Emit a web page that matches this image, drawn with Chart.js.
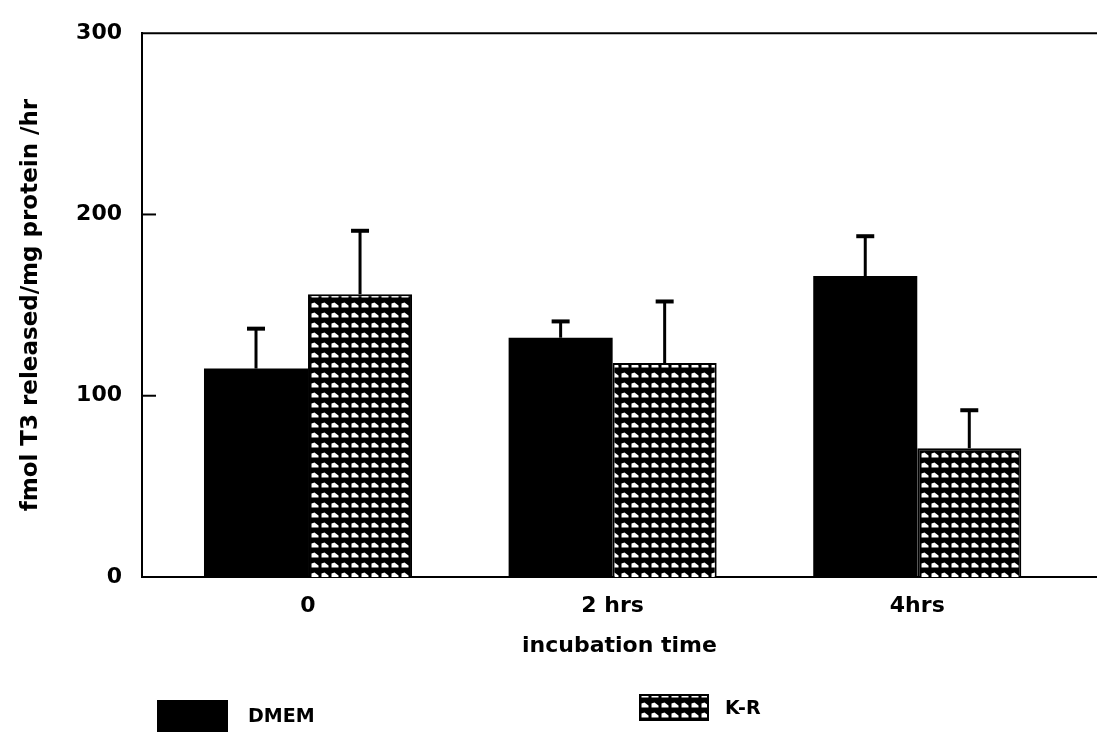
<!DOCTYPE html>
<html>
<head>
<meta charset="utf-8">
<script src="https://cdn.jsdelivr.net/npm/chart.js@4/dist/chart.umd.min.js"></script>
<style>
  html, body { margin: 0; padding: 0; background: #fff; }
  #wrap { width: 1097px; height: 734px; }
</style>
</head>
<body>
<div id="wrap"><canvas id="chart" width="1097" height="734"></canvas></div>
<script>
// incubation time categories
const timeLabels = ['0', '2 hrs', '4hrs'];

// fmol T3 released/mg protein /hr
const dmemValues = [115, 132, 166];
const dmemErrors = [22, 9, 22];
const krValues = [156, 118, 71];
const krErrors = [35, 34, 21];

const yTicks = [0, 100, 200, 300];

const FONT = 'DejaVu Sans';

const ctx = document.getElementById('chart').getContext('2d');

// black with small white wedges, like the K-R fill
function makeCheck() {
  const c = document.createElement('canvas');
  c.width = 10;
  c.height = 10;
  const g = c.getContext('2d');
  g.fillStyle = '#000';
  g.fillRect(0, 0, 10, 10);
  g.fillStyle = '#fff';
  g.beginPath();
  g.moveTo(1.5, 7.5);
  g.lineTo(1.5, 3.5);
  g.lineTo(4.5, 2.5);
  g.lineTo(8.5, 5.5);
  g.lineTo(8.5, 7.5);
  g.closePath();
  g.fill();
  return ctx.createPattern(c, 'repeat');
}
const checkFill = makeCheck();

// error bars, top side only
const errorBars = {
  id: 'errorBars',
  afterDatasetsDraw(chart) {
    const c = chart.ctx;
    const y = chart.scales.y;
    chart.data.datasets.forEach((ds, i) => {
      const meta = chart.getDatasetMeta(i);
      meta.data.forEach((bar, j) => {
        const top = y.getPixelForValue(ds.data[j].y + ds.errors[j]);
        c.save();
        c.strokeStyle = '#000';
        c.lineWidth = 3;
        c.beginPath();
        c.moveTo(bar.x, bar.y);
        c.lineTo(bar.x, top);
        c.stroke();
        c.lineWidth = 4;
        c.beginPath();
        c.moveTo(bar.x - 9, top);
        c.lineTo(bar.x + 9, top);
        c.stroke();
        c.restore();
      });
    });
  }
};

// top frame line and small inward ticks
const frame = {
  id: 'frame',
  afterDraw(chart) {
    const c = chart.ctx;
    const a = chart.chartArea;
    const y = chart.scales.y;
    c.save();
    c.strokeStyle = '#000';
    c.lineWidth = 2;
    c.beginPath();
    c.moveTo(a.left, a.top);
    c.lineTo(a.right, a.top);
    c.stroke();
    yTicks.slice(1, -1).forEach(v => {
      const py = y.getPixelForValue(v);
      c.beginPath();
      c.moveTo(a.left, py);
      c.lineTo(a.left + 14, py);
      c.stroke();
    });
    c.restore();
  }
};

// legend along the bottom, as in the figure
const bottomLegend = {
  id: 'bottomLegend',
  afterDraw(chart) {
    const c = chart.ctx;
    const ds = chart.data.datasets;
    c.save();
    c.font = 'bold 19px "' + FONT + '"';
    c.textBaseline = 'middle';
    c.fillStyle = ds[0].backgroundColor;
    c.fillRect(157, 700, 71, 32);
    c.fillStyle = '#000';
    c.fillText(ds[0].label, 248, 717);
    c.fillStyle = ds[1].backgroundColor;
    c.fillRect(640, 695, 68, 25);
    c.strokeStyle = '#000';
    c.lineWidth = 2;
    c.strokeRect(640, 695, 68, 25);
    c.fillStyle = '#000';
    c.fillText(ds[1].label, 725, 709);
    c.restore();
  }
};

new Chart(ctx, {
  type: 'bar',
  data: {
    datasets: [{
      label: 'DMEM',
      data: dmemValues.map((v, i) => ({ x: i, y: v })),
      errors: dmemErrors,
      backgroundColor: '#000',
      borderColor: '#000',
      borderWidth: 0,
    }, {
      label: 'K-R',
      data: krValues.map((v, i) => ({ x: i, y: v })),
      errors: krErrors,
      backgroundColor: checkFill,
      borderColor: '#000',
      borderWidth: 2,
    }]
  },
  options: {
    responsive: false,
    animation: false,
    barPercentage: 1,
    categoryPercentage: 0.683,
    layout: { padding: { top: 28, right: 0, bottom: 0, left: 0 } },
    plugins: {
      legend: { display: false },
      tooltip: { enabled: false },
    },
    scales: {
      x: {
        type: 'linear',
        min: -0.545,
        max: 2.59,
        offset: false,
        afterFit(scale) { scale.height = 157; },
        grid: { display: false, drawTicks: false, offset: false },
        border: { display: true, color: '#000', width: 2 },
        ticks: {
          stepSize: 1,
          includeBounds: false,
          padding: 16,
          color: '#000',
          font: { family: FONT, size: 22, weight: 'bold' },
          callback: v => timeLabels[v] ?? '',
        },
        title: {
          display: true,
          text: 'incubation time',
          color: '#000',
          font: { family: FONT, size: 22, weight: 'bold' },
          padding: { top: 4, bottom: 75 },
        },
      },
      y: {
        min: 0,
        max: 300,
        afterFit(scale) { scale.width = 142; },
        grid: { display: false, drawTicks: false },
        border: { display: true, color: '#000', width: 2 },
        afterBuildTicks(scale) { scale.ticks = yTicks.map(v => ({ value: v })); },
        ticks: {
          padding: 20,
          color: '#000',
          font: { family: FONT, size: 22, weight: 'bold' },
        },
        title: {
          display: true,
          text: 'fmol T3 released/mg protein /hr',
          color: '#000',
          font: { family: FONT, size: 23, weight: 'bold' },
          padding: { top: 17, bottom: 0 },
        },
      },
    },
  },
  plugins: [errorBars, frame, bottomLegend],
});
</script>
</body>
</html>
